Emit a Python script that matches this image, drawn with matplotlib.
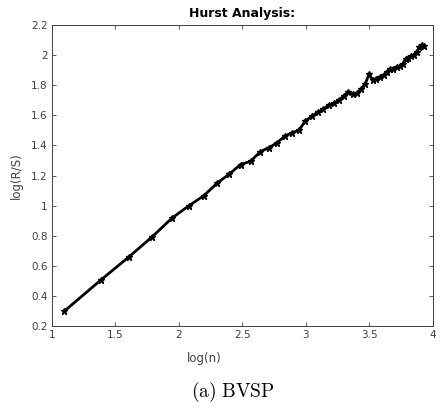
import numpy as np
import matplotlib
matplotlib.use('Agg')
import matplotlib.pyplot as plt

# window sizes n and the measured log(R/S)
n = np.arange(3, 52)
log_rs = [0.300, 0.507, 0.662, 0.795, 0.918, 1.000, 1.067, 1.151, 1.211, 1.273,
          1.295, 1.358, 1.385, 1.418, 1.462, 1.484, 1.502, 1.562, 1.593, 1.620,
          1.640, 1.667, 1.680, 1.700, 1.727, 1.753, 1.740, 1.747, 1.773, 1.807,
          1.873, 1.833, 1.840, 1.853, 1.867, 1.887, 1.907, 1.907, 1.920, 1.927,
          1.940, 1.973, 1.980, 1.993, 2.000, 2.020, 2.053, 2.067, 2.060]

xticks = [1, 1.5, 2, 2.5, 3, 3.5, 4]
xticklabels = ['1', '1.5', '2', '2.5', '3', '3.5', '4']
yticks = [0.2, 0.4, 0.6, 0.8, 1, 1.2, 1.4, 1.6, 1.8, 2, 2.2]
yticklabels = ['0.2', '0.4', '0.6', '0.8', '1', '1.2', '1.4', '1.6', '1.8', '2', '2.2']

grey = '0.25'
fig = plt.figure(figsize=(4.4, 4.17), dpi=100)
ax = fig.add_axes([0.118, 0.218, 0.866, 0.722])

ax.plot(np.log(n), log_rs, color='k', linewidth=2.0, marker='*', markersize=4.5)

ax.set_xlim(1, 4)
ax.set_ylim(0.2, 2.2)
ax.set_xticks(xticks)
ax.set_xticklabels(xticklabels)
ax.set_yticks(yticks)
ax.set_yticklabels(yticklabels)
ax.tick_params(direction='in', length=3, width=0.6, top=True, right=True,
               labelsize=7.5, colors=grey, pad=3)
for s in ax.spines.values():
    s.set_color(grey)
    s.set_linewidth(0.7)

ax.set_title('Hurst Analysis:', fontsize=9, fontweight='bold', pad=6)
ax.set_xlabel('log(n)', fontsize=8.5, color=grey)
ax.xaxis.set_label_coords(0.40, -0.085)
ax.set_ylabel('log(R/S)', fontsize=8.5, color=grey)
ax.yaxis.set_label_coords(-0.075, 0.5)

fig.text(0.53, 0.06, r'$\mathrm{(a)\ BVSP}$', fontsize=14, ha='center',
         va='center', math_fontfamily='cm')

fig.savefig('out.png', dpi=100)
